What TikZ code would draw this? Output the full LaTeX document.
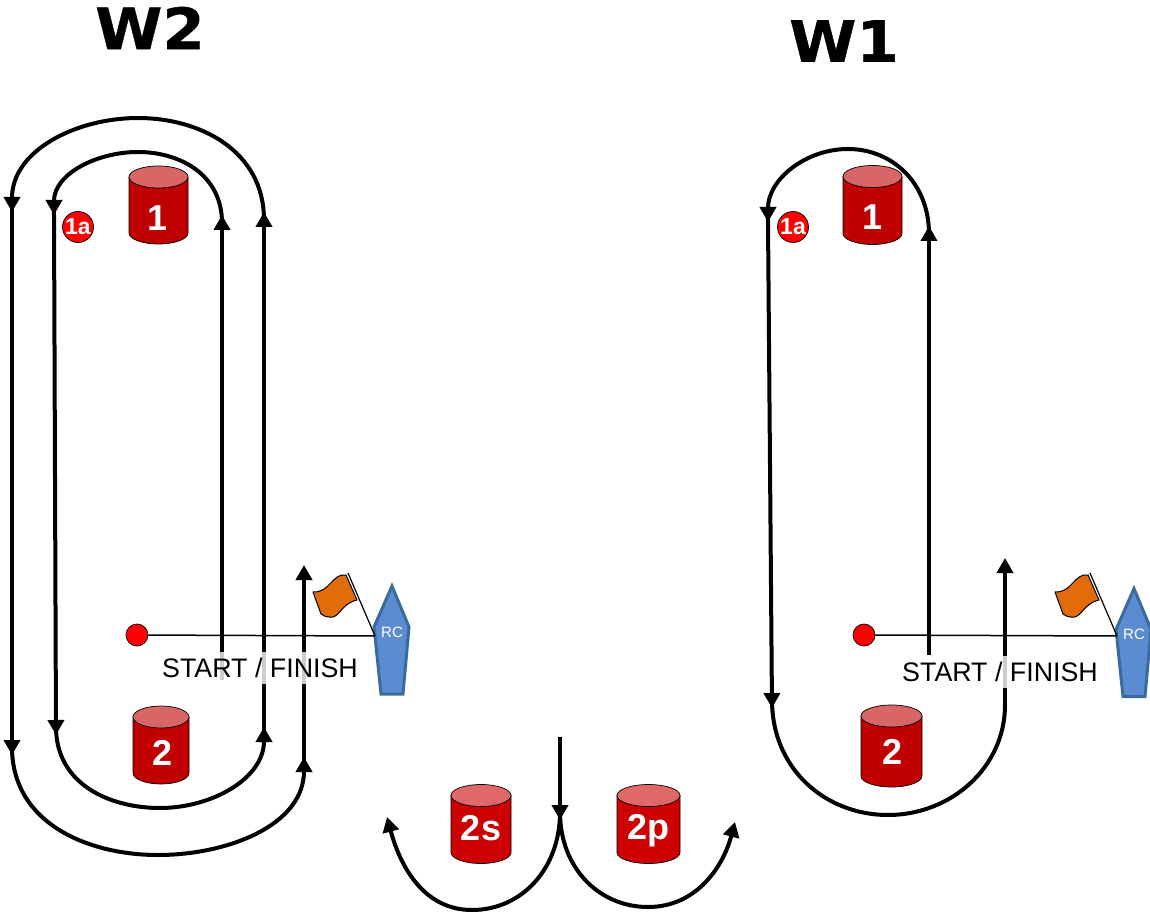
\documentclass[tikz,border=0pt]{standalone}
\usepackage{fontspec}
\setmainfont{Liberation Sans}
\newfontfamily\titlefont[BoldFont={DejaVu Sans Bold},BoldFeatures={FakeStretch=1.07,FakeBold=.7}]{DejaVu Sans}
\usetikzlibrary{arrows.meta}

\definecolor{markred}{HTML}{C00000}
\definecolor{marktop}{HTML}{D96666}
\definecolor{gatered}{HTML}{CC0000}
\definecolor{gatetop}{HTML}{E06868}
\definecolor{hullblue}{HTML}{5B8BD0}
\definecolor{hulledge}{HTML}{3B6A9E}
\definecolor{flagorange}{HTML}{E36C0A}

% body colour, top colour, centre x, centre y, width, height
\newcommand{\drum}[6]{
  \draw[line width=0.7pt, fill=#1] ({#3-#5/2},{#4+#6/2-11}) -- ({#3-#5/2},{#4-#6/2+11})
    arc[start angle=180, end angle=360, x radius=#5/2, y radius=11]
    -- ({#3+#5/2},{#4+#6/2-11}) -- cycle;
  \draw[line width=0.7pt, fill=#2] (#3,{#4+#6/2-11}) ellipse[x radius=#5/2, y radius=11];
}

\tikzset{
  leg/.style={line width=4pt, -{Triangle[width=16pt,length=15pt]}},
  plainleg/.style={line width=4pt},
  % runs on out of the tip of the leg before
  turn/.style={shorten <=-8pt},
  drum text/.style={text=white, font=\bfseries\fontsize{36}{36}\selectfont},
  dot/.style={circle, draw=black, line width=0.7pt, fill=red, minimum size=22pt, inner sep=0pt},
  smalldot/.style={circle, draw=black, line width=0.7pt, fill=red, minimum size=31pt, inner sep=0pt,
    text=white, font=\bfseries\fontsize{23}{23}\selectfont},
  line label/.style={fill=white, fill opacity=.8, text opacity=1, inner sep=1pt, minimum height=32pt,
    font=\fontsize{26.8}{27}\selectfont},
  title/.style={font=\titlefont\bfseries\fontsize{57}{57}\selectfont},
  hull/.pic={
    \draw[line width=3pt, draw=hulledge, fill=hullblue]
      (392,333) -- (409,292) -- (403,225) -- (381,225) -- (374,292) -- cycle;
    \node[text=white, font=\fontsize{15}{15}\selectfont] (-text) at (392,287) {RC};
  },
  flag/.pic={
    \coordinate (-foot) at (375,283);
    \coordinate (-top) at (348,346);
    \draw[line width=1pt, fill=flagorange]
      (313,327) .. controls (330,326) and (332,346) .. (346,344) -- (357,319)
      .. controls (340,315) and (340,300) .. (329,302) .. controls (325,302) and (323,304) .. (321,305) -- cycle;
    \draw[line width=1.2pt] (-top) -- (-foot);
  },
}

\begin{document}
\begin{tikzpicture}[x=1pt,y=1pt]
  \useasboundingbox (0,0) rectangle (1150,919);

  % titles
  \node[title] (titleB) at (150,891) {W2};
  \node[title] (titleA) at (844,878) {W1};

  % marks
  \foreach \name/\px/\py/\w/\h/\tx/\ty/\txt in {oneB/158.5/714/59/78/158/701/1, twoB/161/174/56/78/163/166/2, oneA/872.5/714/59/79/872/702/1, twoA/891.5/173/61/82/892/167/2} {
    \drum{markred}{marktop}{\px}{\py}{\w}{\h}
    \node[drum text] (\name) at (\tx,\ty) {\txt};
  }
  \foreach \name/\px/\py/\w/\h/\tx/\ty/\txt in {twoS/481/95/60/79/481/91/2s, twoP/648.5/95/63/79/648/88/2p} {
    \drum{gatered}{gatetop}{\px}{\py}{\w}{\h}
    \node[drum text] (\name) at (\tx,\ty) {\txt};
  }
  \node[smalldot] (aB) at (78,692) {1a};
  \node[smalldot] (aA) at (793,692) {1a};

  % boats
  \pic (hullB) at (0,0) {hull};
  \pic (flagB) at (0,0) {flag};
  \pic (hullA) at (742,-2.5) {hull};
  \pic (flagA) at (742,0) {flag};

  % start lines
  \node[dot] (pinB) at (137,284) {};
  \node[dot] (pinA) at (864,284) {};
  \draw[line width=1.5pt] (pinB) -- (flagB-foot);
  \draw[line width=1.5pt] (pinA) -- (flagA-foot);

  % W2 course
  \coordinate (c1) at (222,239);
  \coordinate (b1) at (222,704);
  \coordinate (b2) at (54,704);
  \coordinate (b3) at (56,184);
  \coordinate (b4) at (264,192);
  \coordinate (a1) at (264,707);
  \coordinate (a2) at (12,707);
  \coordinate (a3) at (12,164);
  \coordinate (a4) at (304,162);
  \coordinate (a5) at (304,354);
  \coordinate (topIn) at (138,767);
  \coordinate (topOut) at (138,801);
  \coordinate (botIn) at (160,111);
  \coordinate (botOut) at (158,64);

  \draw[leg] (c1) -- (b1);
  \draw[leg,turn] (b1) to[out=90,in=0] (topIn) to[out=180,in=90] (b2);
  \draw[leg,turn] (b2) -- (b3);
  \draw[leg,turn] (b3) to[out=-90,in=180] (botIn) to[out=0,in=-90] (b4);
  \draw[leg,turn] (b4) -- (a1);
  \draw[leg,turn] (a1) to[out=90,in=0] (topOut) to[out=180,in=90] (a2);
  \draw[leg,turn] (a2) -- (a3);
  \draw[leg,turn] (a3) to[out=-90,in=180] (botOut) to[out=0,in=-90] (a4);
  \draw[leg,turn] (a4) -- (a5);

  % W1 course
  \coordinate (e) at (929,264);
  \coordinate (d1) at (929,693);
  \coordinate (d2) at (768,697);
  \coordinate (d3) at (772,211);
  \coordinate (d4) at (1005,214);
  \coordinate (d5) at (1005,361);
  \coordinate (topA) at (848,770);
  \coordinate (botA) at (888,104);

  \draw[leg] (e) -- (d1);
  \draw[leg,turn] (d1) to[out=90,in=0] (topA) to[out=180,in=90] (d2);
  \draw[leg,turn] (d2) -- (d3);
  \draw[plainleg,turn] (d3) to[out=-90,in=180] (botA) to[out=0,in=-90] (d4);
  \draw[leg] (d4) -- (d5);

  % gate rounding
  \coordinate (f1) at (560,182);
  \coordinate (f2) at (560,99);
  \coordinate (f3) at (387,102);
  \coordinate (f4) at (735,97);
  \coordinate (botS) at (472,9);
  \coordinate (botP) at (648,12);

  \draw[leg] (f1) -- (f2);
  \draw[leg,turn] (f2) to[out=-90,in=0] (botS) to[out=180,in=-75] (f3);
  \draw[leg,turn] (f2) to[out=-90,in=180] (botP) to[out=0,in=-105] (f4);

  % labels on the lines
  \node[line label] (startB) at (260,251) {START / FINISH};
  \node[line label] (startA) at (1000,247) {START / FINISH};
\end{tikzpicture}
\end{document}
